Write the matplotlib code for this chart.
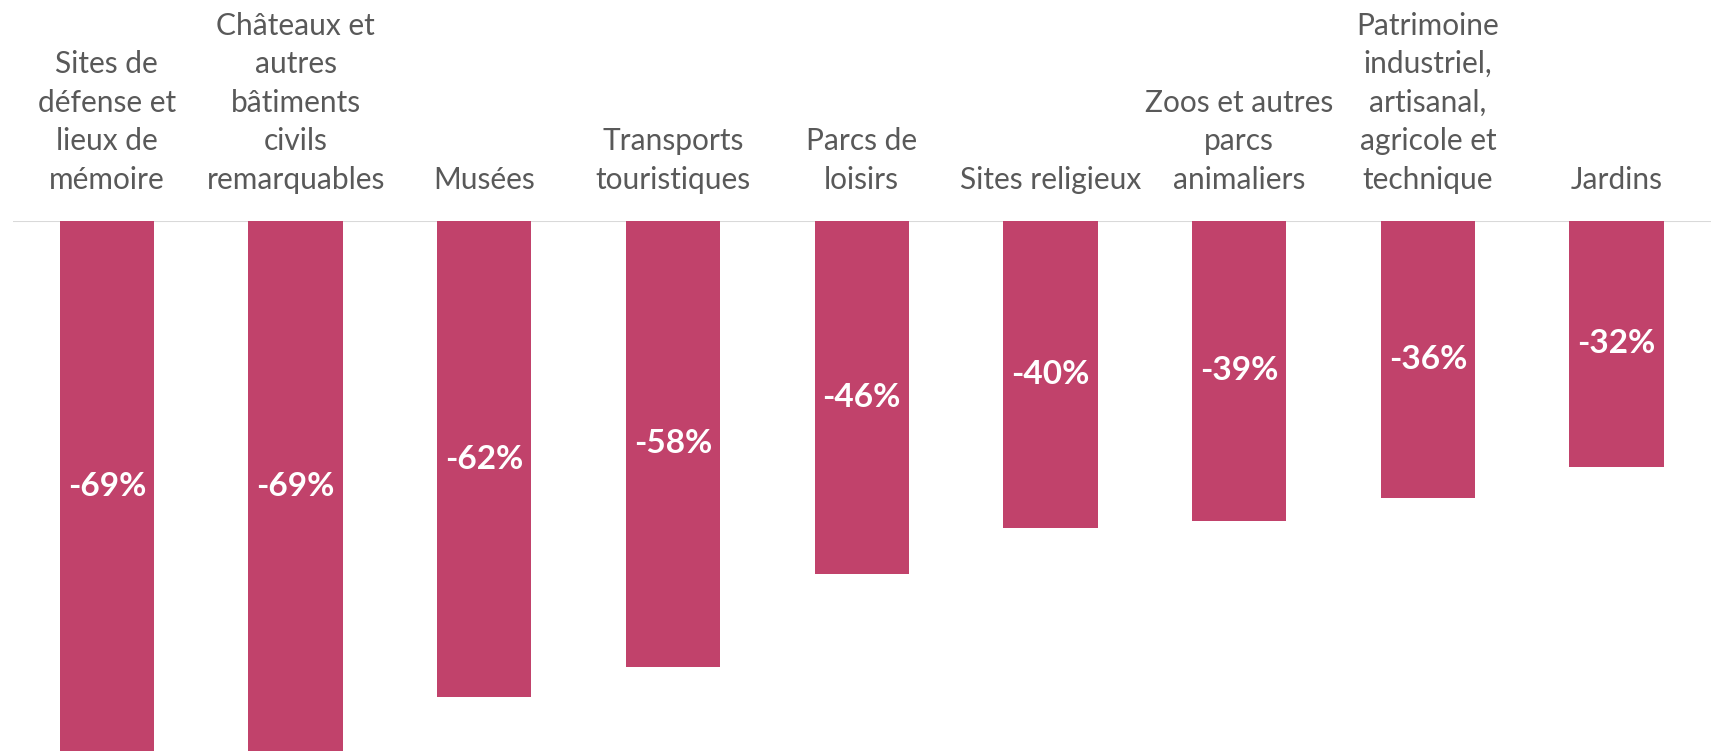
import matplotlib
matplotlib.use("Agg")
import matplotlib.pyplot as plt
import matplotlib.transforms as mtransforms

categories = [
    "Sites de\ndéfense et\nlieux de\nmémoire",
    "Châteaux et\nautres\nbâtiments\ncivils\nremarquables",
    "Musées",
    "Transports\ntouristiques",
    "Parcs de\nloisirs",
    "Sites religieux",
    "Zoos et autres\nparcs\nanimaliers",
    "Patrimoine\nindustriel,\nartisanal,\nagricole et\ntechnique",
    "Jardins",
]
values = [-69, -69, -62, -58, -46, -40, -39, -36, -32]
value_labels = ["-69%", "-69%", "-62%", "-58%", "-46%", "-40%", "-39%", "-36%", "-32%"]

plt.rcParams['font.family'] = ['Lato', 'DejaVu Sans']

fig = plt.figure(figsize=(17.13, 7.52), dpi=100)
ax = fig.add_axes([12.5 / 1713, 0.0, (1711 - 12.5) / 1713, 1 - 221 / 752])

x = list(range(len(categories)))
bars = ax.bar(x, values, width=0.5, color="#C1426B", zorder=2)

ax.set_xlim(-0.5, len(categories) - 0.5)
ax.set_ylim(-69.1, 0)
ax.axhline(0, color="#D9D9D9", lw=1.5, zorder=1)
for s in ax.spines.values():
    s.set_visible(False)
ax.set_xticks([])
ax.set_yticks([])

for xi, v, lab in zip(x, values, value_labels):
    ax.text(xi, v / 2, lab, ha="center", va="center", color="white",
            fontsize=24, fontweight="bold", zorder=3)

trans = mtransforms.blended_transform_factory(ax.transData, ax.transAxes)
off = mtransforms.offset_copy(trans, fig=fig, x=0, y=27, units="dots")
for xi, c in zip(x, categories):
    ax.text(xi, 1.0, c, ha="center", va="bottom", color="#595959",
            fontsize=21.5, linespacing=1.46, transform=off)

fig.savefig("out.png", dpi=100)
